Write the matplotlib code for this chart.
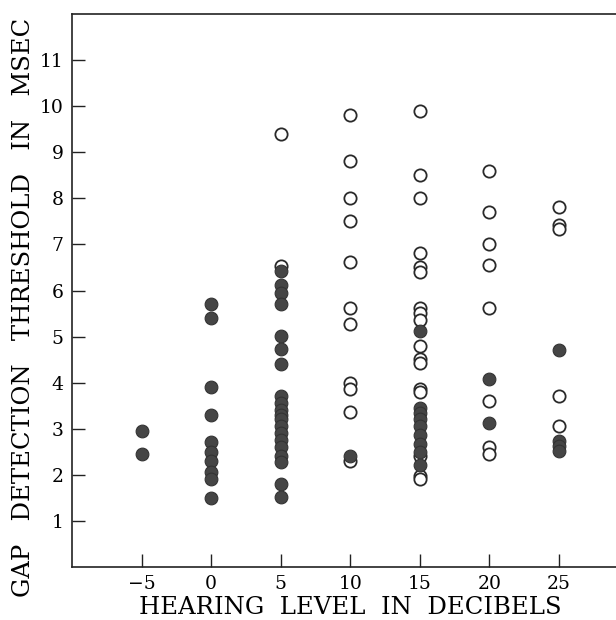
import matplotlib.pyplot as plt

# hearing levels (dB) and gap thresholds (msec)
levels = [-5, 0, 5, 10, 15, 20, 25]

filled_m5 = [2.95, 2.45]
filled_0 = [5.7, 5.4, 3.9, 3.3, 2.7, 2.5, 2.3, 2.05, 1.9, 1.5]
filled_5 = [6.43, 6.13, 5.94, 5.71, 5.02, 4.73, 4.41, 3.7, 3.55, 3.4, 3.3, 3.2,
            3.05, 2.9, 2.75, 2.6, 2.4, 2.27, 1.8, 1.52]
filled_10 = [2.4]
filled_15 = [5.12, 3.45, 3.33, 3.2, 3.05, 2.87, 2.66, 2.5, 2.2]
filled_20 = [4.08, 3.12]
filled_25 = [4.71, 2.72, 2.62, 2.52]

open_m5 = []
open_0 = []
open_5 = [9.4, 6.53]
open_10 = [9.81, 8.81, 8.02, 7.52, 6.62, 5.62, 5.28, 3.99, 3.86, 3.37, 2.3]
open_15 = [9.91, 8.51, 8.02, 6.81, 6.52, 6.41, 5.63, 5.51, 5.36, 4.8, 4.51, 4.43,
           3.85, 3.8, 2.4, 1.96, 1.9]
open_20 = [8.6, 7.71, 7.01, 6.56, 5.62, 3.6, 2.6, 2.45]
open_25 = [7.82, 7.42, 7.33, 3.7, 3.05]

filled_cols = [filled_m5, filled_0, filled_5, filled_10, filled_15, filled_20, filled_25]
open_cols = [open_m5, open_0, open_5, open_10, open_15, open_20, open_25]

plt.rcParams['font.family'] = ['DejaVu Serif']

fig = plt.figure(figsize=(6.16, 6.2), dpi=100)
ax = fig.add_axes([72 / 616, 53.3 / 620, 556.4 / 616, 552.4 / 620])

ox, oy, fx, fy = [], [], [], []
for lv, col in zip(levels, open_cols):
    ox += [lv] * len(col)
    oy += col
for lv, col in zip(levels, filled_cols):
    fx += [lv] * len(col)
    fy += col

ax.scatter(ox, oy, s=78, facecolor='white', edgecolor='#2a2a2a', linewidth=1.3, zorder=3)
ax.scatter(fx, fy, s=84, facecolor='#454545', edgecolor='#333333', linewidth=0.8, zorder=4)

ax.set_xlim(-10, 30)
ax.set_ylim(0, 12)
ax.set_xticks([-5, 0, 5, 10, 15, 20, 25])
ax.set_yticks(range(1, 12))
ax.tick_params(direction='in', length=9.5, width=1.0, labelsize=13.5, pad=6, color='#222222')
for side in ['left', 'bottom', 'top']:
    ax.spines[side].set_linewidth(1.2)
    ax.spines[side].set_color('#222222')
ax.spines['right'].set_visible(False)

ax.set_xlabel("HEARING  LEVEL  IN  DECIBELS", fontsize=17.5, labelpad=2)
ax.set_ylabel("GAP   DETECTION   THRESHOLD   IN   MSEC", fontsize=17.5)
ax.yaxis.set_label_coords(-0.066, 0.47)

fig.savefig("out.png", dpi=100)
